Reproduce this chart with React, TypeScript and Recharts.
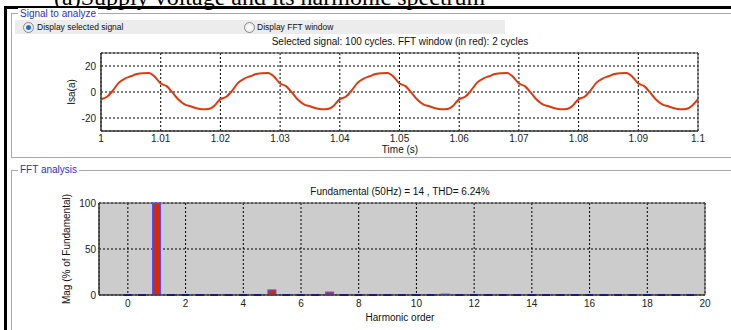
import { LineChart, Line, BarChart, Bar, XAxis, YAxis, CartesianGrid, ReferenceArea } from "recharts"

// time axis of the displayed window (s)
const signalTime = [
  1.000, 1.001, 1.002, 1.003, 1.004, 1.005, 1.006, 1.007, 1.008, 1.009,
  1.010, 1.011, 1.012, 1.013, 1.014, 1.015, 1.016, 1.017, 1.018, 1.019,
  1.020, 1.021, 1.022, 1.023, 1.024, 1.025, 1.026, 1.027, 1.028, 1.029,
  1.030, 1.031, 1.032, 1.033, 1.034, 1.035, 1.036, 1.037, 1.038, 1.039,
  1.040, 1.041, 1.042, 1.043, 1.044, 1.045, 1.046, 1.047, 1.048, 1.049,
  1.050, 1.051, 1.052, 1.053, 1.054, 1.055, 1.056, 1.057, 1.058, 1.059,
  1.060, 1.061, 1.062, 1.063, 1.064, 1.065, 1.066, 1.067, 1.068, 1.069,
  1.070, 1.071, 1.072, 1.073, 1.074, 1.075, 1.076, 1.077, 1.078, 1.079,
  1.080, 1.081, 1.082, 1.083, 1.084, 1.085, 1.086, 1.087, 1.088, 1.089,
  1.090, 1.091, 1.092, 1.093, 1.094, 1.095, 1.096, 1.097, 1.098, 1.099,
  1.100,
]

// Isa (A)
const signalIsa = [
  -5.5, -3.7, 1.2, 7.2, 10.3, 12.1, 13.8, 14.5, 14.6, 11.8,
  6.5, 4.5, -0.5, -6, -9.5, -11, -12.5, -13.2, -13, -10.5,
  -5.5, -3.7, 1.2, 7.2, 10.3, 12.1, 13.8, 14.5, 14.6, 11.8,
  6.5, 4.5, -0.5, -6, -9.5, -11, -12.5, -13.2, -13, -10.5,
  -5.5, -3.7, 1.2, 7.2, 10.3, 12.1, 13.8, 14.5, 14.6, 11.8,
  6.5, 4.5, -0.5, -6, -9.5, -11, -12.5, -13.2, -13, -10.5,
  -5.5, -3.7, 1.2, 7.2, 10.3, 12.1, 13.8, 14.5, 14.6, 11.8,
  6.5, 4.5, -0.5, -6, -9.5, -11, -12.5, -13.2, -13, -10.5,
  -5.5, -3.7, 1.2, 7.2, 10.3, 12.1, 13.8, 14.5, 14.6, 11.8,
  6.5, 4.5, -0.5, -6, -9.5, -11, -12.5, -13.2, -13, -10.5,
  -5.5,
]

const timeTicks = [1, 1.01, 1.02, 1.03, 1.04, 1.05, 1.06, 1.07, 1.08, 1.09, 1.1]
const isaTicks = [-20, 0, 20]

// FFT bins, 25 Hz resolution (2-cycle window)
const harmonicOrder = [
  0, 0.5, 1, 1.5, 2, 2.5, 3, 3.5, 4, 4.5,
  5, 5.5, 6, 6.5, 7, 7.5, 8, 8.5, 9, 9.5,
  10, 10.5, 11, 11.5, 12, 12.5, 13, 13.5, 14, 14.5,
  15, 15.5, 16, 16.5, 17, 17.5, 18, 18.5, 19, 19.5,
]
const harmonicMag = [
  0, 0, 100, 0, 0, 0, 0, 0, 0, 0,
  5.5, 0, 0, 0, 3.2, 0, 0, 0, 0, 0,
  0, 0, 1, 0, 0, 0, 0, 0, 0, 0,
  0, 0, 0, 0, 0, 0, 0, 0, 0, 0,
]
const orderTicks = [0, 2, 4, 6, 8, 10, 12, 14, 16, 18, 20]
const magTicks = [0, 50, 100]

const signalData = signalTime.map((t, i) => ({ t, isa: signalIsa[i] }))
const fftData = harmonicOrder.map((h, i) => ({ h, mag: harmonicMag[i] }))

const FONT = '"Liberation Sans", Arial, sans-serif'
const tickStyle = { fontSize: 10, fill: "#222", fontFamily: FONT }

function HarmonicBar(props: any) {
  const { x, y, width, height } = props
  if (!height || height < 0.3) {
    return <line x1={x} x2={x + width} y1={y + (height || 0)} y2={y + (height || 0)} stroke="#0000d0" strokeWidth={2} />
  }
  return <rect x={x} y={y} width={width} height={height} fill="#d42a08" stroke="#5050ff" strokeWidth={1} />
}

function Radio({ x, y, checked }: { x: number; y: number; checked: boolean }) {
  return (
    <div
      style={{
        position: "absolute", left: x, top: y, width: 9, height: 9, borderRadius: "50%",
        border: "1px solid #8a8a8a", background: "radial-gradient(circle, #fff 0%, #e4e4e4 100%)",
      }}
    >
      {checked && (
        <div style={{ position: "absolute", left: 2, top: 2, width: 5, height: 5, borderRadius: "50%", background: "#1d6fd0" }} />
      )}
    </div>
  )
}

function Text({ x, y, children, size = 10, color = "#111", rotate = false, center = true }: any) {
  return (
    <div
      style={{
        position: "absolute", left: x, top: y, fontSize: size, fontFamily: FONT, color,
        whiteSpace: "nowrap", lineHeight: "12px",
        transform: `${center ? "translate(-50%, -50%)" : "translate(0, -50%)"}${rotate ? " rotate(-90deg)" : ""}`,
      }}
    >
      {children}
    </div>
  )
}

export default function App() {
  return (
    <div style={{ position: "absolute", left: 0, top: 0, width: 731, height: 330, overflow: "hidden", background: "#fff" }}>
      {/* caption cut at top */}
      <div
        style={{
          position: "absolute", left: 54, top: -15, fontSize: 24, lineHeight: "24px",
          fontFamily: '"Liberation Serif", "Times New Roman", serif', color: "#000", whiteSpace: "nowrap",
        }}
      >
        (a)Supply voltage and its harmonic spectrum
      </div>
      {/* black frame */}
      <div style={{ position: "absolute", left: 4, top: 6, width: 740, height: 3, background: "#000" }} />
      <div style={{ position: "absolute", left: 4, top: 6, width: 3, height: 340, background: "#000" }} />

      {/* group boxes */}
      <div style={{ position: "absolute", left: 11, top: 13, width: 740, height: 143, border: "1px solid #a8a8a8", borderRight: "none" }} />
      <div style={{ position: "absolute", left: 11, top: 170, width: 740, height: 200, border: "1px solid #a8a8a8", borderRight: "none" }} />
      <div style={{ position: "absolute", left: 18, top: 8, padding: "0 2px", background: "#fff", fontSize: 10, lineHeight: "12px", fontFamily: FONT, color: "#3030c8" }}>
        Signal to analyze
      </div>
      <div style={{ position: "absolute", left: 18, top: 164, padding: "0 2px", background: "#fff", fontSize: 10, lineHeight: "12px", fontFamily: FONT, color: "#3030c8" }}>
        FFT analysis
      </div>

      {/* radio row */}
      <div style={{ position: "absolute", left: 15, top: 20, width: 490, height: 14, background: "#ececec" }} />
      <Radio x={23} y={22} checked />
      <Text x={37} y={27} size={8.5} center={false}>Display selected signal</Text>
      <Radio x={244} y={22} checked={false} />
      <Text x={257} y={27} size={8.5} center={false}>Display FFT window</Text>

      <Text x={400} y={42}>Selected signal: 100 cycles. FFT window (in red): 2 cycles</Text>

      {/* signal plot */}
      <div style={{ position: "absolute", left: 0, top: 0 }}>
        <LineChart width={731} height={160} data={signalData} margin={{ top: 53, right: 33, bottom: 9, left: 61 }}>
          <CartesianGrid stroke="#000" strokeDasharray="2 2" fill="#fff" />
          <XAxis
            type="number" dataKey="t" domain={[1, 1.1]} ticks={timeTicks} interval={0} allowDataOverflow
            height={20} tickLine={false} tickSize={0} tickMargin={4} axisLine={{ stroke: "#333" }} tick={tickStyle}
            tickFormatter={(v: number) => String(Number(v.toFixed(2)))}
          />
          <YAxis
            type="number" domain={[-30, 30]} ticks={isaTicks} interval={0} width={40}
            tickLine={false} tickSize={0} tickMargin={5} axisLine={{ stroke: "#333" }} tick={tickStyle}
          />
          <ReferenceArea x1={1} x2={1.1} y1={-30} y2={30} fill="none" fillOpacity={0} stroke="#444" strokeWidth={1} />
          <Line type="monotone" dataKey="isa" stroke="#e2380c" strokeWidth={2} dot={false} isAnimationActive={false} />
        </LineChart>
      </div>
      <Text x={72} y={92} rotate>Isa(a)</Text>
      <Text x={400} y={150}>Time (s)</Text>

      {/* FFT plot */}
      <Text x={400} y={192}>Fundamental (50Hz) = 14 , THD= 6.24%</Text>
      <div style={{ position: "absolute", left: 0, top: 160 }}>
        <BarChart width={731} height={170} data={fftData} margin={{ top: 43, right: 26, bottom: 15, left: 59 }} barSize={8}>
          <CartesianGrid stroke="#000" strokeDasharray="2 2" fill="#cccccc" fillOpacity={1} />
          <XAxis
            type="number" dataKey="h" domain={[-1, 20]} ticks={orderTicks} interval={0} allowDataOverflow
            height={20} tickLine={false} tickSize={0} tickMargin={5} axisLine={{ stroke: "#333" }} tick={tickStyle}
          />
          <YAxis
            type="number" domain={[0, 100]} ticks={magTicks} interval={0} width={40}
            tickLine={false} tickSize={0} tickMargin={3} axisLine={{ stroke: "#333" }} tick={tickStyle}
          />
          <ReferenceArea x1={-1} x2={20} y1={0} y2={100} fill="none" fillOpacity={0} stroke="#444" strokeWidth={1} />
          <Bar dataKey="mag" shape={HarmonicBar} isAnimationActive={false} />
        </BarChart>
      </div>
      <Text x={67} y={249} rotate>Mag (% of Fundamental)</Text>
      <Text x={400} y={318}>Harmonic order</Text>
    </div>
  )
}
